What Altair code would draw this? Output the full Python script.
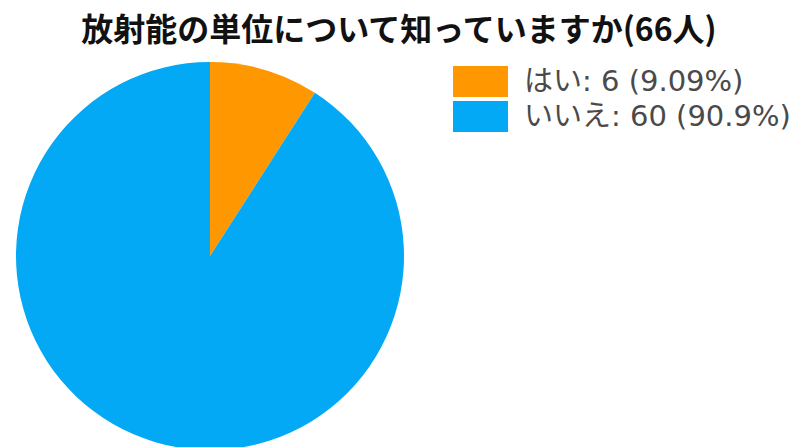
import altair as alt
import pandas as pd

categories = ["はい", "いいえ"]
counts = [6, 60]
colors = ["#FF9800", "#03A9F4"]
title_text = "放射能の単位について知っていますか(66人)"

total = sum(counts)
labels = [f"{c}: {n} ({round(n / total * 100, 2 if n / total < 0.1 else 1)}%)" for c, n in zip(categories, counts)]
df = pd.DataFrame({"label": labels, "count": counts, "order": list(range(len(counts)))})

rect_path = "M-2,-1.1273H2V1.1273H-2Z"

chart = (
    alt.Chart(df)
    .mark_arc(radius=194, stroke=None)
    .encode(
        theta=alt.Theta("count:Q", stack=True),
        order=alt.Order("order:Q"),
        color=alt.Color(
            "label:N",
            scale=alt.Scale(domain=labels, range=colors),
            sort=labels,
            legend=alt.Legend(
                title=None,
                orient="none",
                legendX=466,
                legendY=67,
                symbolType=rect_path,
                symbolSize=756,
                symbolStrokeWidth=0,
                symbolOpacity=1,
                labelFontSize=29,
                labelFont="DejaVu Sans, Noto Sans CJK JP",
                labelColor="#4a4a4a",
                labelOffset=29,
                rowPadding=4,
                labelLimit=400,
            ),
        ),
        x=alt.value(210),
        y=alt.value(256),
    )
    .properties(
        width=798,
        height=447,
        autosize=alt.AutoSizeParams(type="none"),
        padding=0,
        title=alt.TitleParams(
            title_text,
            font="Noto Sans CJK JP",
            fontSize=32,
            fontWeight="bold",
            color="#111111",
            anchor="middle",
            offset=-48,
        ),
    )
    .configure_view(stroke=None)
)

chart.save("out.html", embed_options={"renderer": "svg", "actions": False})
